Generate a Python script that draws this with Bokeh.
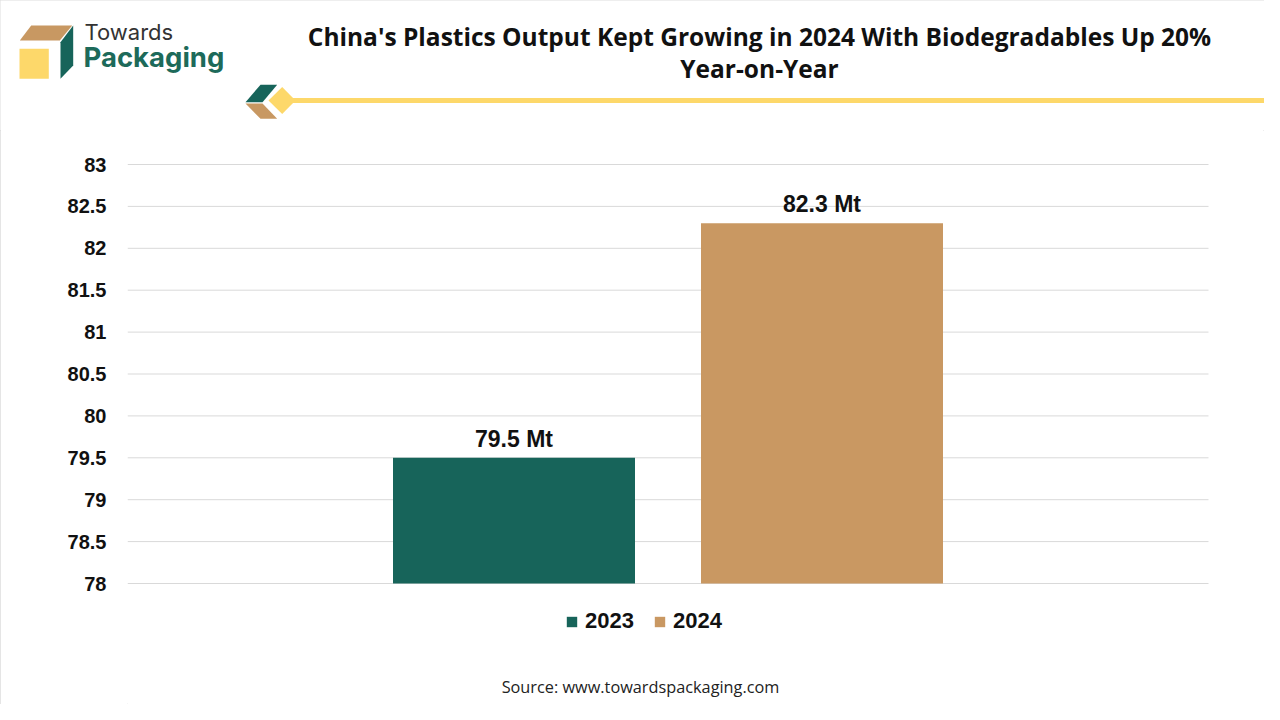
from bokeh.plotting import figure
from bokeh.models import (Range1d, FixedTicker, ColumnDataSource, Legend, LegendItem, LabelSet)
from bokeh.layouts import column
from bokeh.core.properties import value
from bokeh.embed import file_html
from bokeh.resources import INLINE

# ---- data ----
years = ["2023", "2024"]
output_mt = [79.5, 82.3]
value_labels = ["79.5 Mt", "82.3 Mt"]
bar_colors = ["#17645a", "#c99862"]
y_ticks = [78, 78.5, 79, 79.5, 80, 80.5, 81, 81.5, 82, 82.5, 83]
y_tick_labels = ["78", "78.5", "79", "79.5", "80", "80.5", "81", "81.5", "82", "82.5", "83"]
title_lines = ["China's Plastics Output Kept Growing in 2024 With Biodegradables Up 20%",
               "Year-on-Year"]
source_text = "Source: www.towardspackaging.com"

# ---- layout constants (page pixels) ----
W, H = 1264, 704
HEAD_H = 130
PL, PR, PT, PB = 127, 1208, 164, 583      # plot area in page px
Y0, Y1 = 78, 83                           # axis range shown
GREEN = "#17645a"
TAN = "#c89862"
YEL = "#fdd86a"
TXT = "#111111"

# ================= header =================
hd = figure(width=W, height=HEAD_H, output_backend="svg", toolbar_location=None,
            x_range=Range1d(0, W), y_range=Range1d(HEAD_H, 0),
            min_border=0, x_axis_type=None, y_axis_type=None)
hd.frame_align = False
hd.outline_line_color = None
hd.xgrid.visible = False
hd.ygrid.visible = False

logo_x = [[19.3, 30.7, 71.7, 59.3], [60, 72.7, 72.7, 60], [19, 48.3, 48.3, 19],
          [245, 260, 276.7, 262], [245, 262, 276.7, 260], [268, 281.7, 295, 281.7]]
logo_y = [[40, 25, 25, 40], [41.7, 25, 65, 78.3], [48.3, 48.3, 78.3, 78.3],
          [101.7, 84.3, 84.3, 101.7], [103, 103, 118.3, 118.3], [100, 86.5, 100, 113.5]]
logo_c = [TAN, GREEN, YEL, GREEN, TAN, YEL]
hd.patches(xs=logo_x, ys=logo_y, fill_color=logo_c, line_color=None)
hd.quad(left=[290], right=[W], top=[97.6], bottom=[102.4], fill_color=YEL, line_color=None)

hd.text(x=[84], y=[31], text=["Towards"], text_font=value("Inter"), text_font_size="22px",
        text_color="#333333", text_baseline="middle")
hd.text(x=[83], y=[56], text=["Packaging"], text_font=value("Inter"), text_font_style="bold",
        text_font_size="27.5px", text_color="#1d6a5a", text_baseline="middle")
hd.text(x=[759, 759], y=[36, 68], text=title_lines, text_font=value("Open Sans"),
        text_font_style="bold", text_font_size="24.5px", text_color=TXT,
        text_align="center", text_baseline="middle")

# ================= chart =================
CH = H - HEAD_H
ppu = (PB - PT) / (Y1 - Y0)
y_top = Y1 + (PT - HEAD_H) / ppu
y_bot = Y0 - (H - PB) / ppu

p = figure(width=W, height=CH, output_backend="svg", toolbar_location=None,
           x_range=Range1d(PL, W), y_range=Range1d(y_bot, y_top),
           min_border_left=PL, min_border_right=0, min_border_top=0, min_border_bottom=0,
           x_axis_type=None)
p.frame_align = False
p.extra_y_ranges = {"px": Range1d(H, HEAD_H)}
p.outline_line_color = None
p.xgrid.visible = False
p.ygrid.visible = False
ax = p.yaxis[0]
ax.ticker = FixedTicker(ticks=y_ticks)
ax.major_label_overrides = {t: l for t, l in zip(y_ticks, y_tick_labels)}
ax.axis_line_color = None
ax.major_tick_line_color = None
ax.minor_tick_line_color = None
ax.major_tick_out = 0
ax.major_tick_in = 0
ax.minor_tick_out = 0
ax.major_label_standoff = 21
ax.major_label_text_font = "Liberation Sans"
ax.major_label_text_font_style = "bold"
ax.major_label_text_font_size = "20px"
ax.major_label_text_color = TXT

# gridlines limited to the plot area
p.segment(x0=PL, x1=PR, y0=y_ticks, y1=y_ticks, line_color="#d9d9d9", line_width=1)

# bars: one category, two series side by side
bw, gap = 242, 66
gc = (PL + PR) / 2
xs = [gc - gap / 2 - bw / 2, gc + gap / 2 + bw / 2]
items = []
for i in range(len(years)):
    s = ColumnDataSource(dict(x=[xs[i]], top=[output_mt[i]]))
    r = p.vbar(x="x", top="top", bottom=Y0, width=bw, color=bar_colors[i], line_color=None, source=s)
    items.append(LegendItem(label=years[i], renderers=[r]))

src = ColumnDataSource(dict(x=xs, top=output_mt, lab=value_labels))
p.add_layout(LabelSet(x="x", y="top", text="lab", source=src, text_align="center",
                      text_baseline="alphabetic", y_offset=11, text_font=value("Liberation Sans"),
                      text_font_style="bold", text_font_size="23px", text_color=TXT))

# source note
p.text(x=[640], y=[686], text=[source_text], y_range_name="px", text_font=value("Open Sans"),
       text_font_size="16.3px", text_color="#222222", text_align="center", text_baseline="middle")

legend = Legend(items=items, orientation="horizontal", location=(565 - PL, H - 634),
                glyph_width=13, glyph_height=13, label_standoff=7, spacing=19,
                padding=0, margin=0, border_line_color=None, background_fill_alpha=0,
                label_text_font="Liberation Sans", label_text_font_style="bold",
                label_text_font_size="22px", label_text_color=TXT, label_height=22)
p.add_layout(legend)

layout = column(hd, p, spacing=0,
                styles={"outline": "1px solid #dcdcdc", "outline-offset": "-1px"})
open("out.html", "w").write(file_html(layout, INLINE))
